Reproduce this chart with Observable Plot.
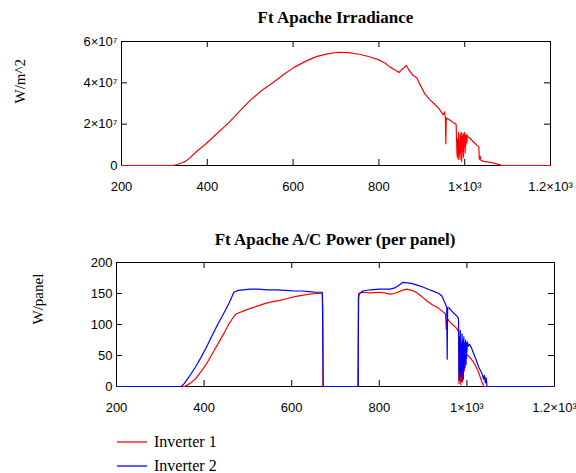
<!DOCTYPE html>
<html><head><meta charset="utf-8">
<script src="https://cdn.jsdelivr.net/npm/d3@7"></script>
<script src="https://cdn.jsdelivr.net/npm/@observablehq/plot@0.6"></script>
<style>
body{margin:0;background:#fff;}
#root{position:relative;width:576px;height:473px;overflow:hidden;background:#fff;}
#root svg{position:absolute;left:0;}
.title{position:absolute;text-align:center;font-family:"Liberation Serif","Times New Roman",serif;font-weight:bold;font-size:17px;color:#000;line-height:20px;}
.leg{position:absolute;left:117px;font-family:"Liberation Serif","Times New Roman",serif;font-size:16px;color:#000;line-height:20px;height:20px;}
.leg span.sw{display:inline-block;width:30px;height:2px;vertical-align:middle;margin-right:7px;position:relative;top:-1px;}
</style>
</head><body>
<div id="root">
  <div class="title" style="left:121px;width:429px;top:8px;">Ft Apache Irradiance</div>
  <div class="title" style="left:116px;width:438px;top:230px;">Ft Apache A/C Power (per panel)</div>
  <div class="leg" style="top:432px;"><span class="sw" style="background:#ff5c5c"></span>Inverter 1</div>
  <div class="leg" style="top:456px;"><span class="sw" style="background:#5c5cff"></span>Inverter 2</div>
</div>
<script>
// ---- axis ticks / labels ----
const xTicks = [200, 400, 600, 800, 1000, 1200];
const xTickLabels = ["200", "400", "600", "800", "1×10³", "1.2×10³"];
const irrTicks = [0, 2, 4, 6];            // units of 1e7
const irrTickLabels = ["0", "2×10⁷", "4×10⁷", "6×10⁷"];
const powTicks = [0, 50, 100, 150, 200];
const powTickLabels = ["0", "50", "100", "150", "200"];

// ---- Irradiance (W/m^2, units of 1e7) ----
const irrX = [200, 320, 330, 340, 350, 360, 375, 397, 420, 449, 475, 500, 525, 551, 578, 603, 630, 654, 680, 706, 730, 757, 780, 800, 815, 826, 840, 847, 852, 858, 864, 870, 880, 888, 895, 907, 918, 928, 940, 950, 953, 955, 956, 957, 965, 975, 980,
  982, 983, 984, 985, 986, 987, 988, 989, 990, 991, 992, 993, 994, 995, 996, 997, 998, 999, 1000, 1001, 1002, 1003, 1004, 1005, 1006, 1008, 1012, 1020, 1030, 1033, 1034, 1036, 1038, 1045, 1060, 1075, 1087, 1200];
const irrY = [0, 0, 0.05, 0.12, 0.21, 0.38, 0.68, 1.05, 1.5, 2.05, 2.62, 3.15, 3.6, 3.98, 4.4, 4.76, 5.05, 5.27, 5.4, 5.48, 5.46, 5.37, 5.25, 5.11, 4.95, 4.76, 4.6, 4.5, 4.62, 4.72, 4.84, 4.62, 4.35, 4.25, 3.95, 3.47, 3.2, 3.0, 2.75, 2.45, 2.6, 2.3, 1.05, 2.3, 2.2, 2.05, 2.0,
  0.6, 0.4, 1.3, 0.3, 1.6, 0.5, 1.2, 0.3, 1.5, 0.6, 1.6, 0.2, 1.4, 0.7, 1.55, 0.4, 1.5, 0.9, 1.6, 0.6, 1.45, 1.0, 1.5, 1.1, 1.45, 1.38, 1.32, 1.15, 0.95, 0.9, 0.3, 0.45, 0.25, 0.2, 0.15, 0.08, 0, 0];

// ---- A/C power, Inverter 1 (W/panel) ----
const inv1X = [200, 355, 368, 380, 393, 405, 418, 431, 444, 456, 465, 473, 490, 506, 523, 540, 557, 573, 590, 607, 623, 640, 655, 670, 671, 671.5,
  751, 751.5, 752, 753, 762, 780, 800, 812, 825, 835, 842, 852, 863, 874, 884, 897, 909, 921, 934, 943, 951, 953, 955, 960, 967, 975, 980,
  981, 982, 983, 984, 985, 986, 987, 988, 989, 990, 991, 992, 993, 994, 995, 996, 997, 999, 1001, 1005, 1010, 1018, 1025, 1031, 1035, 1039, 1200];
const inv1Y = [0, 0, 5, 12, 24, 36, 52, 68, 84, 100, 110, 117, 122, 126, 130, 134, 137, 139, 142, 145, 147, 149, 150, 150, 122, 0,
  0, 40, 80, 150, 152, 151, 152, 151, 149, 150, 152, 155, 157, 155, 152, 145, 138, 132, 127, 122, 117, 92, 110, 105, 100, 95, 90,
  88, 5, 45, 10, 55, 3, 40, 15, 60, 8, 45, 20, 50, 25, 48, 30, 50, 45, 52, 48, 44, 36, 26, 14, 6, 0, 0];

// ---- A/C power, Inverter 2 (W/panel) ----
const inv2X = [200, 348, 355, 367, 380, 393, 405, 418, 431, 444, 456, 463, 468, 478, 489, 505, 523, 545, 565, 585, 607, 625, 640, 655, 670, 672,
  752, 752.3, 755, 762, 780, 800, 812, 825, 835, 842, 848, 854, 865, 875, 888, 901, 914, 926, 936, 943, 951, 954, 955, 956, 959, 965, 972, 980,
  981, 982, 983, 984, 985, 986, 987, 988, 989, 990, 991, 992, 993, 994, 995, 996, 997, 998, 999, 1000, 1001, 1003, 1006, 1010, 1016, 1022, 1028, 1035, 1038, 1040, 1042, 1044, 1046, 1200];
const inv2Y = [0, 0, 5, 17, 31, 47, 63, 82, 100, 117, 133, 144, 152, 155, 156, 157, 157, 156, 156, 155, 154, 154, 153, 152, 152, 0,
  0, 144, 150, 154, 156, 157, 157, 157, 159, 162, 165, 168, 167, 166, 163, 160, 156, 153, 150, 146, 133, 128, 44, 127, 127, 122, 117, 111,
  105, 10, 80, 15, 90, 20, 70, 8, 85, 25, 75, 12, 80, 30, 70, 40, 75, 35, 70, 55, 72, 65, 68, 63, 52, 41, 30, 20, 12, 18, 6, 14, 0, 0];

const irr = irrX.map((x, i) => ({x, y: irrY[i]}));
const inv1 = inv1X.map((x, i) => ({x, y: inv1Y[i]}));
const inv2 = inv2X.map((x, i) => ({x, y: inv2Y[i]}));

const fmt = (ticks, labels) => (d) => labels[ticks.indexOf(d)] ?? "";
const baseStyle = {background: "transparent", fontFamily: "'Liberation Sans', Arial, sans-serif", fontSize: "13px", color: "#000", overflow: "visible"};
const TK = 6; // inward tick length (px)

function frameAxes(yTicks, yFmt, innerW, innerH) {
  return [
    Plot.frame({stroke: "#000", strokeWidth: 1}),
    Plot.axisX(xTicks, {anchor: "bottom", tickSize: 0, tickPadding: 16, tickFormat: fmt(xTicks, xTickLabels), label: null, fontSize: 13}),
    Plot.axisY(yTicks, {anchor: "left", tickSize: 0, tickPadding: 4, tickFormat: yFmt, label: null, fontSize: 13}),
    // inward ticks on all four sides of the frame
    Plot.tickX(xTicks, {x: d => d, insetTop: innerH - TK, stroke: "#000"}),
    Plot.tickX(xTicks, {x: d => d, insetBottom: innerH - TK, stroke: "#000"}),
    Plot.tickY(yTicks, {y: d => d, insetRight: innerW - TK, stroke: "#000"}),
    Plot.tickY(yTicks, {y: d => d, insetLeft: innerW - TK, stroke: "#000"})
  ];
}

const topPlot = Plot.plot({
  width: 576, height: 210,
  marginLeft: 121, marginRight: 26, marginTop: 41, marginBottom: 45,
  style: baseStyle,
  x: {domain: [200, 1200]},
  y: {domain: [0, 6]},
  marks: [
    ...frameAxes(irrTicks, fmt(irrTicks, irrTickLabels), 576 - 121 - 26, 210 - 41 - 45),
    Plot.line(irr, {x: "x", y: "y", stroke: "#ff0000", strokeWidth: 1.2}),
    Plot.text(["W/m^2"], {frameAnchor: "left", rotate: -90, dx: -101, fontSize: 15, fontFamily: "'Liberation Serif', 'Times New Roman', serif", fill: "#000"})
  ]
});
topPlot.style.top = "0px";

const bottomPlot = Plot.plot({
  width: 576, height: 210,
  marginLeft: 116, marginRight: 22, marginTop: 42, marginBottom: 44,
  style: baseStyle,
  x: {domain: [200, 1200]},
  y: {domain: [0, 200]},
  marks: [
    ...frameAxes(powTicks, fmt(powTicks, powTickLabels), 576 - 116 - 22, 210 - 42 - 44),
    Plot.line(inv1, {x: "x", y: "y", stroke: "#ff0000", strokeWidth: 1.2}),
    Plot.line(inv2, {x: "x", y: "y", stroke: "#0000ff", strokeWidth: 1.2}),
    Plot.text(["W/panel"], {frameAnchor: "left", rotate: -90, dx: -78, fontSize: 15, fontFamily: "'Liberation Serif', 'Times New Roman', serif", fill: "#000"})
  ]
});
bottomPlot.style.top = "220px";

const root = document.getElementById("root");
root.appendChild(topPlot);
root.appendChild(bottomPlot);
</script>
</body></html>
